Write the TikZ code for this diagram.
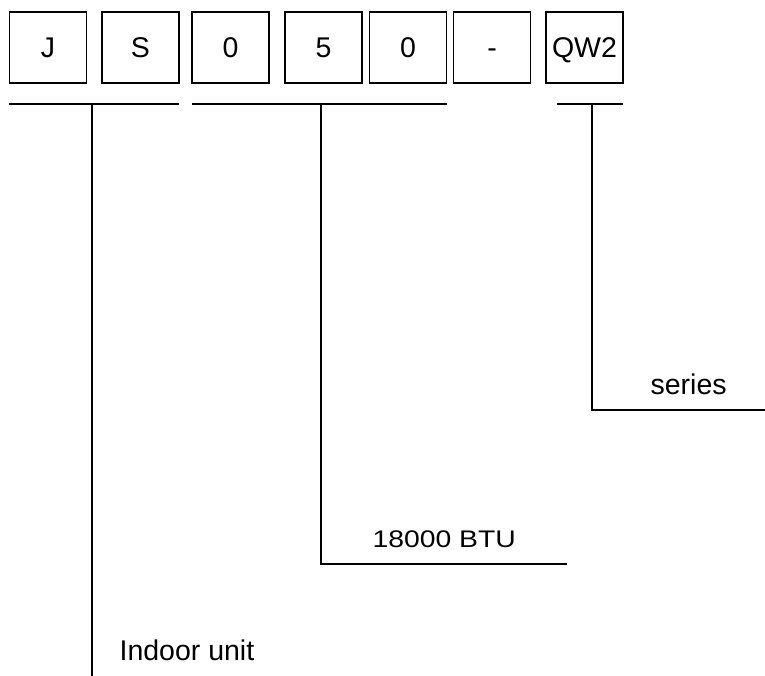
\documentclass[tikz,border=0pt]{standalone}
\usepackage{fontspec}
\setmainfont{Liberation Sans}
\begin{document}
\begin{tikzpicture}[x=1pt,y=-1pt,line width=1.2pt,
  charbox/.style={draw,minimum width=77pt,minimum height=71pt,inner sep=0pt,
    text height=21pt,text depth=0pt,font=\fontsize{28.5}{32}\selectfont},
  lbl/.style={anchor=base west,inner sep=0pt,font=\fontsize{28.5}{32}\selectfont},
  rule/.style={line width=1.2pt}]
\useasboundingbox (0,0) rectangle (765,676);
\node[charbox] (bJ) at (48,47.5) {J};
\node[charbox] (bS) at (140.5,47.5) {S};
\node[charbox] (b0a) at (230.5,47.5) {0};
\node[charbox] (b5) at (323.5,47.5) {5};
\node[charbox] (b0b) at (408,47.5) {0};
\node[charbox] (bD) at (492,47.5) {-};
\node[charbox] (bQ) at (584.5,47.5) {QW2};
% underlines
\coordinate (u1a) at (9,104); \coordinate (u1b) at (179,104);
\coordinate (u2a) at (192,104); \coordinate (u2b) at (447,104);
\coordinate (u3a) at (557,104); \coordinate (u3b) at (623,104);
\draw[rule] (u1a) -- (u1b);
\draw[rule] (u2a) -- (u2b);
\draw[rule] (u3a) -- (u3b);
% leaders
\coordinate (v1) at (92,104); \coordinate (e1) at (92,676);
\draw[rule] (v1) -- (e1);
\coordinate (v2) at (321,104); \coordinate (c2) at (321,564); \coordinate (e2) at (567,564);
\draw[rule] (v2) -- (c2) -- (e2);
\coordinate (v3) at (592,104); \coordinate (c3) at (592,410); \coordinate (e3) at (765,410);
\draw[rule] (v3) -- (c3) -- (e3);
% labels
\node[lbl] (tInd) at (119,660) {Indoor unit};
\node[lbl,font=\fontsize{24}{28}\selectfont] (tBTU) at (372,547) {\scalebox{1.18}[1]{18000 BTU}};
\node[lbl] (tSer) at (650,394) {series};
\end{tikzpicture}
\end{document}
